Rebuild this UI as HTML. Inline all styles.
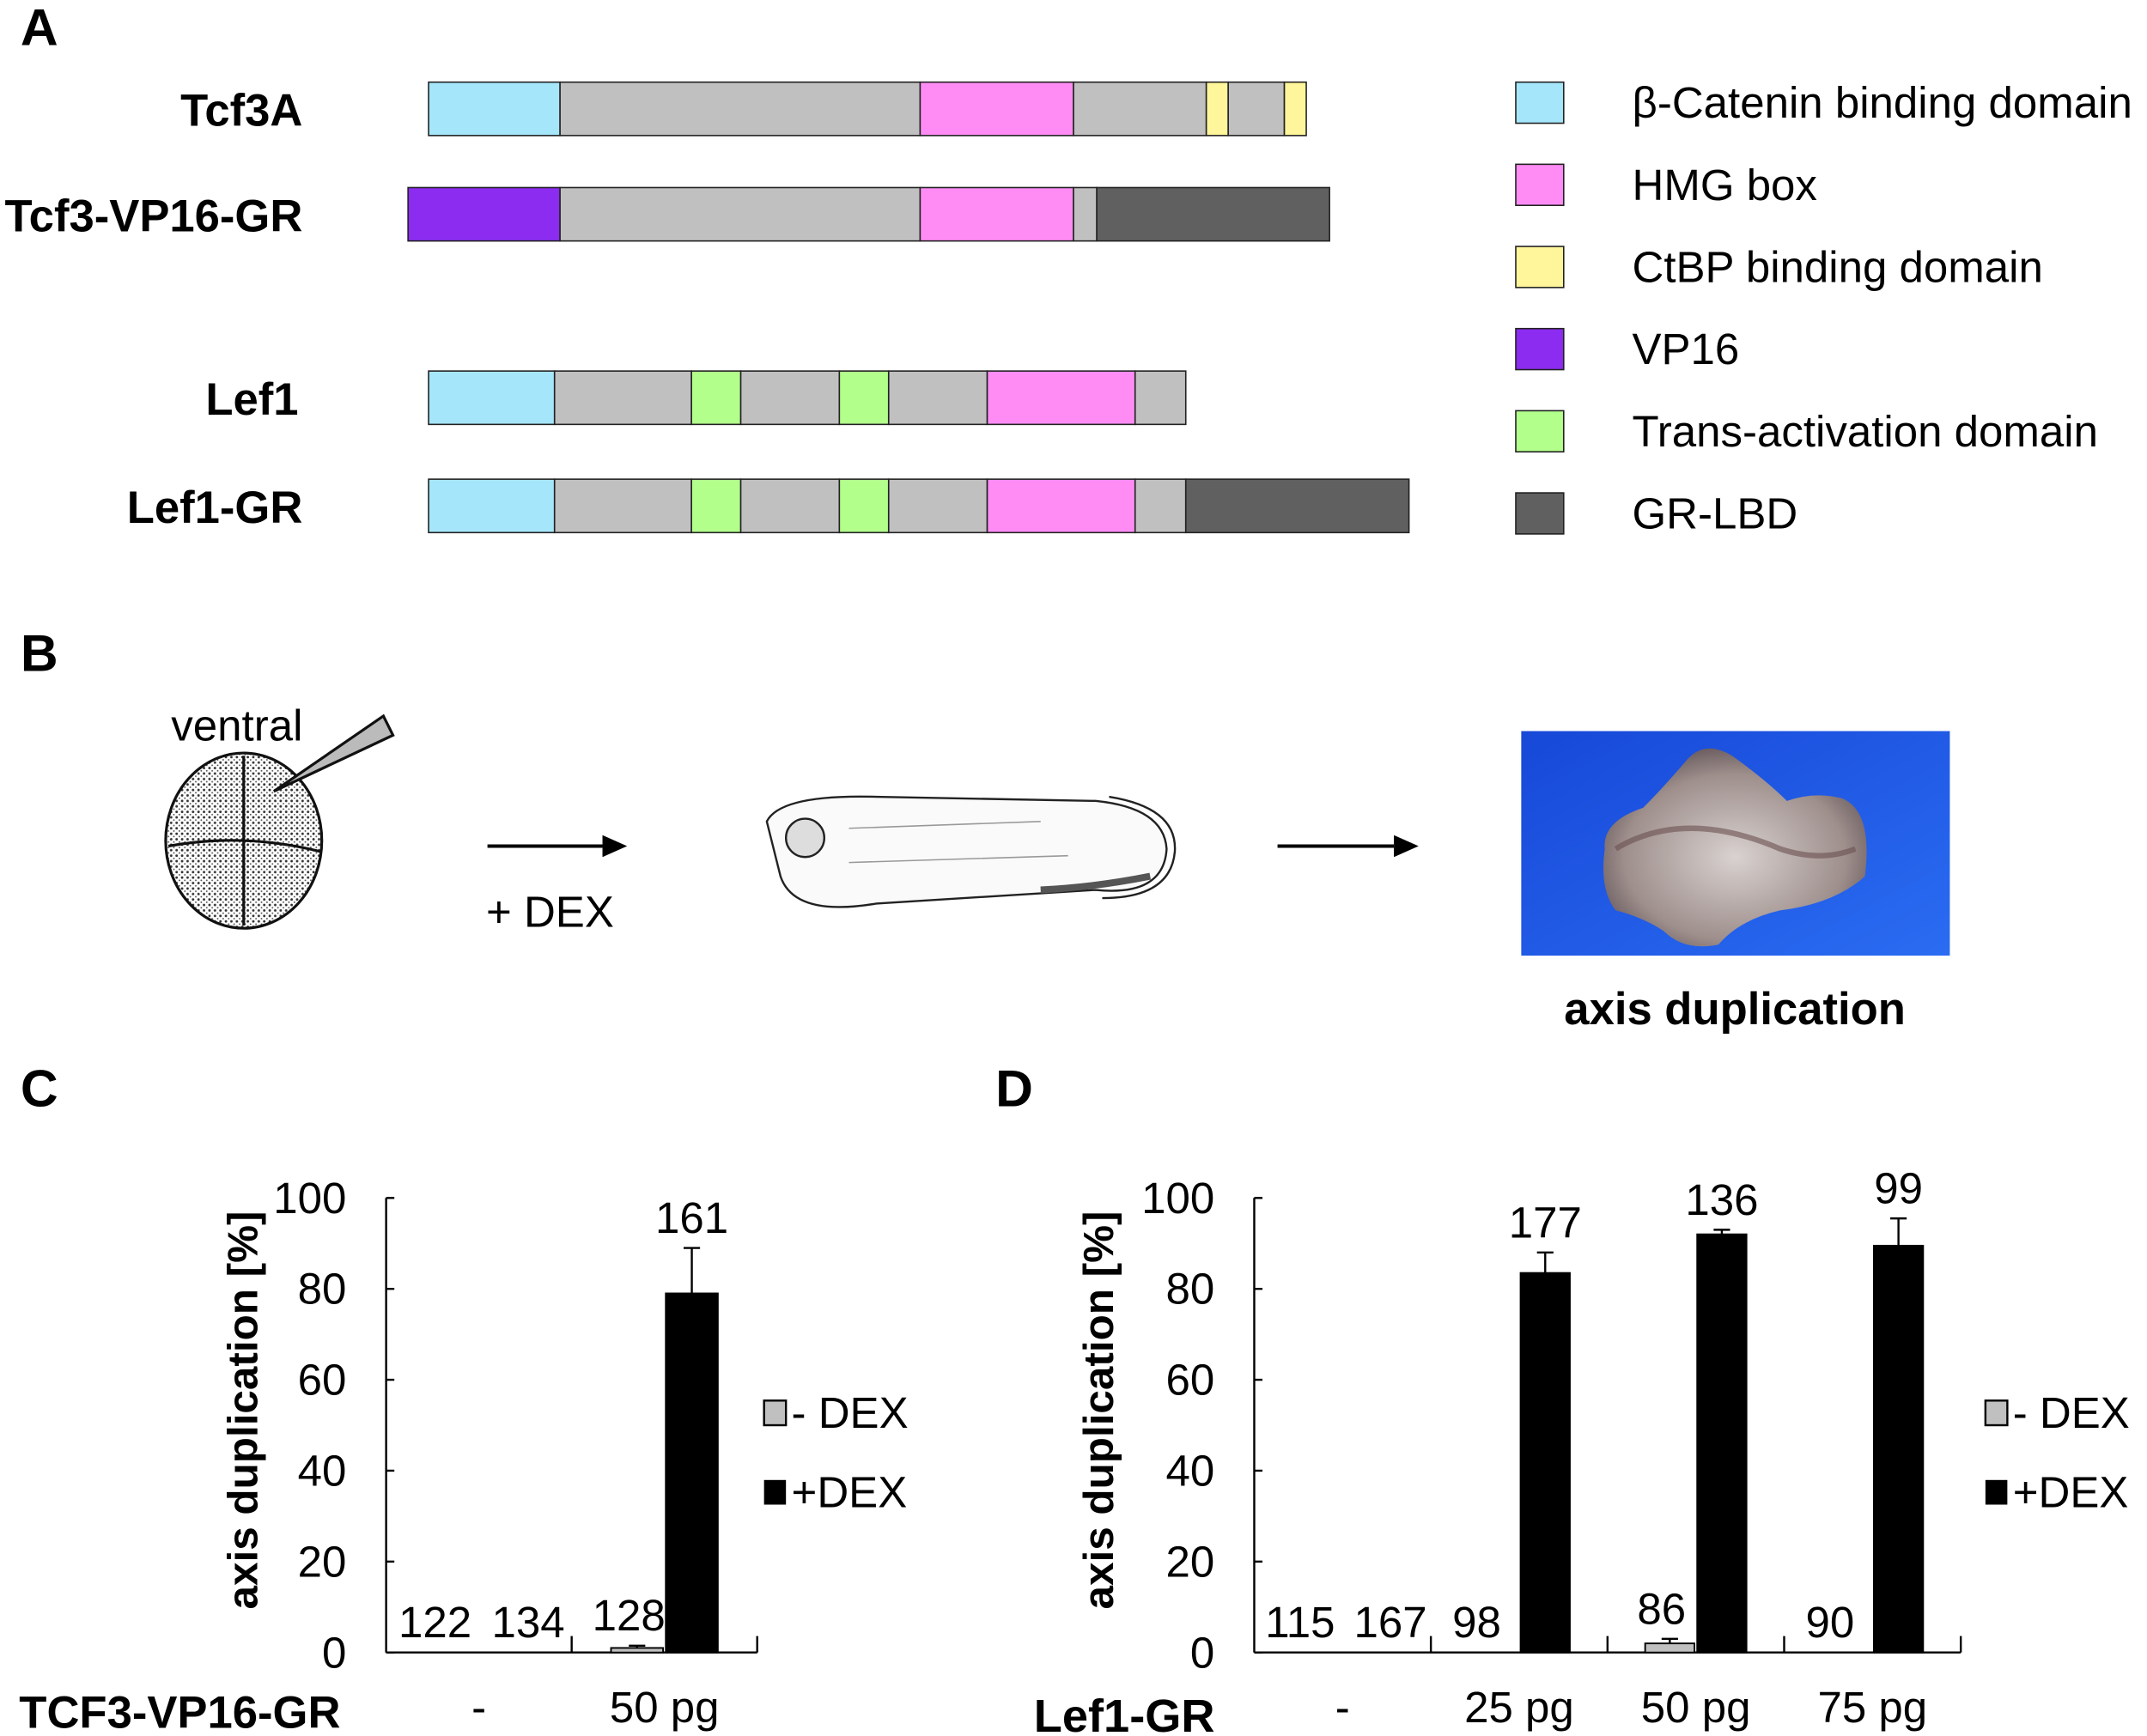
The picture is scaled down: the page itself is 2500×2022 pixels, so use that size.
<!DOCTYPE html>
<html><head><meta charset="utf-8"><style>
html,body{margin:0;padding:0;background:#fff;}
svg{display:block;font-family:"Liberation Sans",Arial,sans-serif;}
</style></head><body>
<svg id="fig" width="2500" height="2022" viewBox="0 0 1568 1268" preserveAspectRatio="none" xmlns="http://www.w3.org/2000/svg">
<defs>
<linearGradient id="bg" x1="0" y1="0" x2="1" y2="1"><stop offset="0" stop-color="#1748d8"/><stop offset="1" stop-color="#2a6cf2"/></linearGradient>
<radialGradient id="blob" cx="0.5" cy="0.55" r="0.6"><stop offset="0" stop-color="#d9d2d0"/><stop offset="0.7" stop-color="#9e8f8c"/><stop offset="1" stop-color="#5e4f55"/></radialGradient>
<pattern id="stip" width="4" height="4" patternUnits="userSpaceOnUse"><rect width="4" height="4" fill="#fff"/><circle cx="1" cy="1" r="0.9" fill="#333"/><circle cx="3" cy="3" r="0.6" fill="#555"/></pattern>
</defs>

<text x="15" y="33" font-size="38" font-weight="bold">A</text>
<text x="15" y="490" font-size="38" font-weight="bold">B</text>
<text x="15" y="808" font-size="38" font-weight="bold">C</text>
<text x="727" y="808" font-size="38" font-weight="bold">D</text>

<g id="panelA" font-size="33" font-weight="bold" text-anchor="end">
<text x="221" y="92">Tcf3A</text>
<text x="221" y="169">Tcf3-VP16-GR</text>
<text x="218" y="303">Lef1</text>
<text x="221" y="382">Lef1-GR</text>
</g>
<g id="domains" stroke="#222" stroke-width="1"></g>
<g id="legendA" font-size="32"></g>

<g>
<text x="125" y="541" font-size="32">ventral</text>
<ellipse cx="178" cy="614" rx="57" ry="64" fill="url(#stip)" stroke="#111" stroke-width="2"/>
<path d="M178 552 L178 676 M123 618 Q178 608 234 622" stroke="#111" stroke-width="2" fill="none"/>
<polygon points="200,578 280,523 287,537" fill="#bbb" stroke="#111" stroke-width="2"/>
<line x1="356" y1="618" x2="440" y2="618" stroke="#000" stroke-width="2.5"/>
<polygon points="440,610 458,618 440,626" fill="#000"/>
<text x="355" y="677" font-size="32">+ DEX</text>
<path d="M560 600 Q570 580 640 582 L800 585 Q850 590 852 620 Q850 655 800 650 L640 660 Q580 670 570 640 Z" fill="#fafafa" stroke="#222" stroke-width="1.5"/>
<path d="M810 582 Q860 590 858 622 Q855 656 805 656" fill="none" stroke="#222" stroke-width="1.5"/>
<circle cx="588" cy="612" r="14" fill="#ddd" stroke="#222" stroke-width="1.5"/>
<path d="M620 605 L760 600 M620 630 L780 625" stroke="#999" stroke-width="1" fill="none"/>
<path d="M760 650 Q800 648 840 640" stroke="#555" stroke-width="5" fill="none"/>
<line x1="933" y1="618" x2="1018" y2="618" stroke="#000" stroke-width="2.5"/>
<polygon points="1018,610 1036,618 1018,626" fill="#000"/>
<rect x="1111" y="534" width="313" height="164" fill="url(#bg)"/>
<path d="M1172 620 Q1170 600 1200 590 Q1215 575 1232 555 Q1245 540 1265 552 Q1290 570 1305 585 Q1325 578 1345 583 Q1368 592 1362 640 Q1340 660 1300 665 Q1270 672 1255 690 Q1230 695 1215 680 Q1200 670 1180 665 Q1168 650 1172 620 Z" fill="url(#blob)"/>
<path d="M1180 620 Q1230 590 1300 620 Q1330 630 1355 620" stroke="#6a5050" stroke-width="4" fill="none" opacity="0.6"/>
<text x="1267" y="748" font-size="33" font-weight="bold" text-anchor="middle">axis duplication</text>
</g>

<g id="chartC"></g>
<g id="chartD"></g>

<text x="14" y="1262" font-size="33" font-weight="bold">TCF3-VP16-GR</text>
<text x="755" y="1265" font-size="34" font-weight="bold">Lef1-GR</text>
</svg>
<script>
const NS='http://www.w3.org/2000/svg';
function mk(parent,tag,attrs,txt){const e=document.createElementNS(NS,tag);for(const k in attrs)e.setAttribute(k,attrs[k]);if(txt!==undefined)e.textContent=txt;parent.appendChild(e);return e;}

const domainColors={cat:'#a6e6fa',gray:'#c0c0c0',hmg:'#ff8cf5',ctbp:'#fff59a',vp16:'#8b2cf0',ta:'#b3ff8c',gr:'#606060'};
const tcf3aDomains=[['cat',313,409],['gray',409,672],['hmg',672,784],['gray',784,881],['ctbp',881,897],['gray',897,938],['ctbp',938,954]];
const tcf3vpDomains=[['vp16',298,409],['gray',409,672],['hmg',672,784],['gray',784,801],['gr',801,971]];
const lef1Domains=[['cat',313,405],['gray',405,505],['ta',505,541],['gray',541,613],['ta',613,649],['gray',649,721],['hmg',721,829],['gray',829,866]];
const lef1grDomains=[['cat',313,405],['gray',405,505],['ta',505,541],['gray',541,613],['ta',613,649],['gray',649,721],['hmg',721,829],['gray',829,866],['gr',866,1029]];
const rowsY=[60,137,271,350];
const legendKeys=['cat','hmg','ctbp','vp16','ta','gr'];
const legendLabels=['β-Catenin binding domain','HMG box','CtBP binding domain','VP16','Trans-activation domain','GR-LBD'];
const dg=document.getElementById('domains');
[tcf3aDomains,tcf3vpDomains,lef1Domains,lef1grDomains].forEach((row,i)=>{
  row.forEach(d=>{
    const r=mk(dg,'rect',{x:d[1],y:rowsY[i],width:d[2]-d[1],height:39,fill:domainColors[d[0]]});
    
    
  });
});
const lg=document.getElementById('legendA');
legendKeys.forEach((k,i)=>{
  const y=60+i*60;
  const s=mk(lg,'rect',{x:1107,y:y,width:35,height:30,fill:domainColors[k],stroke:'#222','stroke-width':1});
  
  
  const t=mk(lg,'text',{x:1192,y:y+26},legendLabels[i]);
  
  
});

const cCategories=['-','50 pg'];
const cMinus=[0,1];
const cMinusErr=[0,0.5];
const cPlus=[0,79];
const cPlusErr=[0,10];
const cMinusN=['122','128'];
const cPlusN=['134','161'];
const dCategories=['-','25 pg','50 pg','75 pg'];
const dMinus=[0,0,2,0];
const dMinusErr=[0,0,1,0];
const dPlus=[0,83.5,92,89.5];
const dPlusErr=[0,4.5,1,6];
const dMinusN=['115','98','86','90'];
const dPlusN=['167','177','136','99'];
const yTicks=[0,20,40,60,80,100];

function chart(gid,cfg){
  const g=document.getElementById(gid);
  const y0=1207,y100=875;
  const yS=v=>y0-(v/100)*(y0-y100);
  const n=cfg.cats.length, gw=(cfg.x1-cfg.x0)/n;
  const xC=i=>cfg.x0+gw*(i+0.5);
  const bw=cfg.bw;
  const ya=mk(g,'line',{x1:cfg.x0,y1:y100,x2:cfg.x0,y2:y0,stroke:'#000','stroke-width':1.5});
  
  
  const xa=mk(g,'line',{x1:cfg.x0,y1:y0,x2:cfg.x1,y2:y0,stroke:'#000','stroke-width':1.5});
  
  
  yTicks.forEach(t=>{
    mk(g,'line',{x1:cfg.x0,y1:yS(t),x2:cfg.x0+6,y2:yS(t),stroke:'#000','stroke-width':1.5});
    const tl=mk(g,'text',{x:cfg.x0-29,y:yS(t)+11,'font-size':32,'text-anchor':'end'},String(t));
    
    
  });
  for(let i=1;i<=n;i++){
    mk(g,'line',{x1:cfg.x0+gw*i,y1:y0,x2:cfg.x0+gw*i,y2:y0-12,stroke:'#000','stroke-width':1.5});
  }
  const yt=mk(g,'text',{x:0,y:0,'font-size':31,'font-weight':'bold','text-anchor':'middle',transform:`translate(${cfg.titleX},1030) rotate(-90)`},'axis duplication [%]');
  
  
  cfg.cats.forEach((c,i)=>{
    const cl=mk(g,'text',{x:xC(i),y:1258,'font-size':32,'text-anchor':'middle'},c);
    
    
    [[cfg.minus,cfg.minusErr,cfg.minusN,-1,'#c0c0c0','bar-minus-dex'],[cfg.plus,cfg.plusErr,cfg.plusN,1,'#000','bar-plus-dex']].forEach(s=>{
      const v=s[0][i],e=s[1][i];
      const bx=s[3]<0?xC(i)-bw-1:xC(i)+1;
      if(v>0){
        const b=mk(g,'rect',{x:bx,y:yS(v),width:bw,height:y0-yS(v),fill:s[4],stroke:'#000','stroke-width':1.2});
        
        
      }
      if(e>0){
        mk(g,'line',{x1:bx+bw/2,y1:yS(v),x2:bx+bw/2,y2:yS(v+e),stroke:'#000','stroke-width':1.5});
        mk(g,'line',{x1:bx+bw/2-6,y1:yS(v+e),x2:bx+bw/2+6,y2:yS(v+e),stroke:'#000','stroke-width':1.5});
      }
      const top=yS(v+e);
      let lx=bx+bw/2;
      if(v===0) lx += s[3]<0 ? -12 : 16;
      else if(s[3]<0) lx -= 6;
      const nl=mk(g,'text',{x:lx,y:Math.min(top,y0)-11,'font-size':32,'text-anchor':'middle'},s[2][i]);
      
      
    });
  });
  const lx=cfg.legX;
  const l1=mk(g,'rect',{x:lx,y:1023,width:16,height:18,fill:'#c0c0c0',stroke:'#000','stroke-width':1.5});
  
  
  const t1=mk(g,'text',{x:lx+20,y:1043,'font-size':32},'- DEX');
  
  
  const l2=mk(g,'rect',{x:lx,y:1081,width:16,height:18,fill:'#000'});
  
  
  const t2=mk(g,'text',{x:lx+20,y:1101,'font-size':32},'+DEX');
  
  
}
chart('chartC',{cats:cCategories,minus:cMinus,minusErr:cMinusErr,plus:cPlus,plusErr:cPlusErr,minusN:cMinusN,plusN:cPlusN,x0:282,x1:553,bw:38,titleX:188,legX:558});
chart('chartD',{cats:dCategories,minus:dMinus,minusErr:dMinusErr,plus:dPlus,plusErr:dPlusErr,minusN:dMinusN,plusN:dPlusN,x0:916,x1:1432,bw:36,titleX:813,legX:1450});
</script>
</body></html>
